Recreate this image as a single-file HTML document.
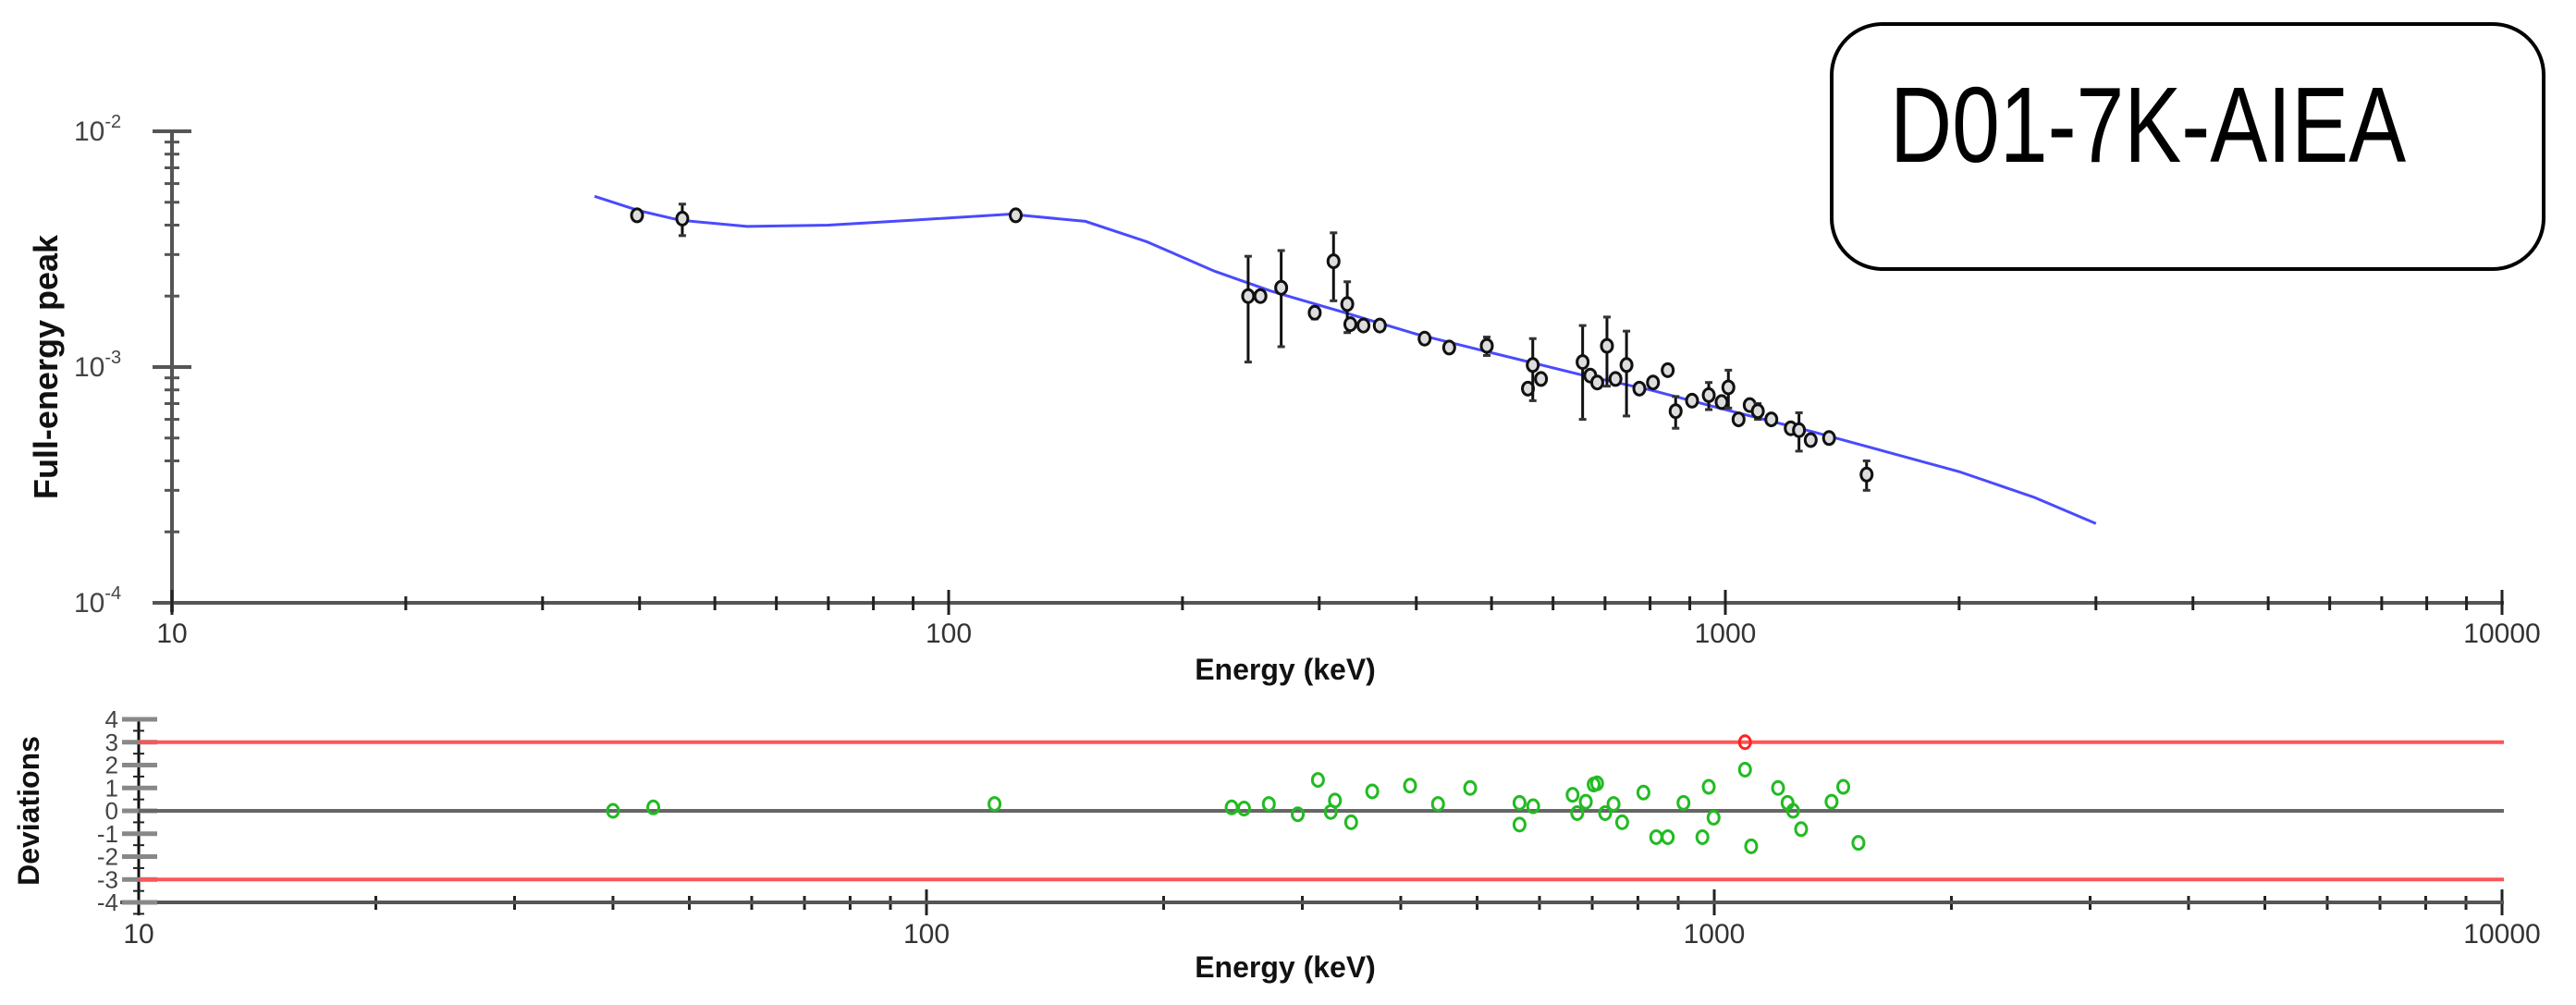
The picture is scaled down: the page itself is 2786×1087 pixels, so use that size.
<!DOCTYPE html>
<html><head><meta charset="utf-8"><style>
html,body{margin:0;padding:0;background:#fff;}
svg{display:block;font-family:"Liberation Sans",sans-serif;}
</style></head><body>
<svg id="chart" width="2786" height="1087" viewBox="0 0 2786 1087" xmlns="http://www.w3.org/2000/svg">
<rect x="1981" y="26" width="770" height="265" rx="55" ry="55" fill="#fff" stroke="#000" stroke-width="4"/>
<text transform="translate(2044,175) scale(1,1.25)" font-size="93" fill="#000">D01-7K-AIEA</text>
<g id="topPlot"></g>
<g id="botPlot"></g>
</svg>
<script>
// ---- data ----
const effEnergies=[39.7,45.4,122,243,252,268,296,313,326,329,342,359,410,441,493,557,565,579,655,670,684,704,722,746,775,807,843,863,906,952,989,1009,1040,1075,1101,1146,1214,1244,1288,1360,1520];
const effValues=[4.4e-3,4.26e-3,4.4e-3,2.0e-3,2.0e-3,2.17e-3,1.7e-3,2.81e-3,1.85e-3,1.52e-3,1.5e-3,1.5e-3,1.32e-3,1.21e-3,1.23e-3,0.81e-3,1.02e-3,0.89e-3,1.05e-3,0.92e-3,0.86e-3,1.23e-3,0.89e-3,1.02e-3,0.81e-3,0.86e-3,0.97e-3,0.65e-3,0.72e-3,0.76e-3,0.71e-3,0.82e-3,0.60e-3,0.69e-3,0.65e-3,0.60e-3,0.55e-3,0.54e-3,0.49e-3,0.50e-3,0.35e-3];
const effErrors=[0,0.65e-3,0,0.95e-3,0,0.95e-3,0.1e-3,0.9e-3,0.45e-3,0,0,0,0,0,0.11e-3,0,0.3e-3,0,0.45e-3,0,0,0.4e-3,0,0.4e-3,0,0,0,0.1e-3,0,0.1e-3,0,0.15e-3,0,0,0.05e-3,0,0,0.1e-3,0,0,0.05e-3];
const fitEnergies=[35,40,45,55,70,90,120,150,180,220,260,320,400,500,650,800,1000,1300,1600,2000,2500,3000];
const fitValues=[5.3e-3,4.6e-3,4.2e-3,3.95e-3,4.0e-3,4.2e-3,4.45e-3,4.15e-3,3.4e-3,2.55e-3,2.1e-3,1.72e-3,1.38e-3,1.15e-3,0.93e-3,0.8e-3,0.66e-3,0.53e-3,0.44e-3,0.36e-3,0.28e-3,0.217e-3];
const devEnergies=[40,45,122,244,253,272,296,314,330,326,346,368,411,446,490,566,566,589,661,670,687,703,710,727,745,764,813,844,873,914,966,984,998,1094,1094,1114,1205,1239,1259,1289,1409,1458,1524];
const devValues=[0,0.15,0.3,0.15,0.1,0.3,-0.15,1.35,0.45,-0.05,-0.5,0.85,1.1,0.3,1.0,0.35,-0.6,0.2,0.7,-0.1,0.4,1.15,1.2,-0.1,0.3,-0.5,0.8,-1.15,-1.15,0.35,-1.15,1.05,-0.3,3.0,1.8,-1.55,1.0,0.35,0,-0.8,0.4,1.05,-1.4];
const xTicks=[10,100,1000,10000];
const xTickLabels=["10","100","1000","10000"];
const yTickExps=[-2,-3,-4];
const devTicks=[4,3,2,1,0,-1,-2,-3,-4];
// ---- axes ----
const NS="http://www.w3.org/2000/svg";
const X1=E=>186+840*Math.log10(E/10);
const Y1=v=>652-255*(Math.log10(v)+4);
const X2=E=>150+852*Math.log10(E/10);
const Y2=d=>877-24.75*d;
function mk(p,tag,a){const e=document.createElementNS(NS,tag);for(const k in a)e.setAttribute(k,a[k]);p.appendChild(e);return e;}
const gTop=document.getElementById('topPlot'),gBot=document.getElementById('botPlot');
const G="#555";
let e;
e=mk(gTop,'line',{x1:186,y1:142,x2:186,y2:662,stroke:G,'stroke-width':4});


e=mk(gTop,'line',{x1:165,y1:652,x2:2708,y2:652,stroke:G,'stroke-width':4});


for(let d=-4;d<-2;d++)for(let m=2;m<=9;m++){const y=Y1(m*Math.pow(10,d));mk(gTop,'line',{x1:178,y1:y,x2:194,y2:y,stroke:G,'stroke-width':3});}
yTickExps.forEach(p=>{const y=Y1(Math.pow(10,p));mk(gTop,'line',{x1:165,y1:y,x2:207,y2:y,stroke:G,'stroke-width':4});
 e=mk(gTop,'text',{x:80,y:y+10,'font-size':30,fill:'#444'});e.textContent='10';
 
 
 const s=mk(e,'tspan',{dy:-14,'font-size':20});s.textContent=String(p);});
for(let d=1;d<4;d++)for(let m=2;m<=9;m++){const x=X1(m*Math.pow(10,d));mk(gTop,'line',{x1:x,y1:645,x2:x,y2:660,stroke:'#222','stroke-width':3});
 const x2=X2(m*Math.pow(10,d));mk(gBot,'line',{x1:x2,y1:969,x2:x2,y2:984,stroke:'#222','stroke-width':3});}
xTicks.forEach((t,i)=>{const x=X1(t);mk(gTop,'line',{x1:x,y1:638,x2:x,y2:665,stroke:'#222','stroke-width':3});
 e=mk(gTop,'text',{x:x,y:695,'font-size':30,fill:'#333','text-anchor':'middle'});e.textContent=xTickLabels[i];
 
 
 const x2=X2(t);mk(gBot,'line',{x1:x2,y1:962,x2:x2,y2:990,stroke:'#222','stroke-width':3});
 e=mk(gBot,'text',{x:x2,y:1020,'font-size':30,fill:'#333','text-anchor':'middle'});e.textContent=xTickLabels[i];
 
 });
e=mk(gTop,'text',{x:1390,y:735,'font-size':32,'font-weight':'bold','text-anchor':'middle',fill:'#111'});e.textContent='Energy (keV)';


e=mk(gTop,'text',{x:0,y:0,'font-size':36,'font-weight':'bold','text-anchor':'middle',fill:'#111',transform:'translate(62,397) rotate(-90)'});e.textContent='Full-energy peak';


e=mk(gTop,'polyline',{points:fitEnergies.map((E,i)=>X1(E)+','+Y1(fitValues[i])).join(' '),fill:'none',stroke:'#4a4aff','stroke-width':3});


effEnergies.forEach((E,i)=>{const x=X1(E),y=Y1(effValues[i]),er=effErrors[i];
 if(er>0){const y1=Y1(effValues[i]+er),y2=Y1(Math.max(effValues[i]-er,1e-5));
  mk(gTop,'line',{x1:x,y1:y1,x2:x,y2:y2,stroke:'#111','stroke-width':3});
  mk(gTop,'line',{x1:x-4,y1:y1,x2:x+4,y2:y1,stroke:'#333','stroke-width':3});
  mk(gTop,'line',{x1:x-4,y1:y2,x2:x+4,y2:y2,stroke:'#333','stroke-width':3});}
 e=mk(gTop,'ellipse',{cx:x,cy:y,rx:6,ry:7,fill:'#ddd',stroke:'#111','stroke-width':3});
 
 });
e=mk(gBot,'line',{x1:150,y1:776,x2:150,y2:990,stroke:'#111','stroke-width':3});


e=mk(gBot,'line',{x1:130,y1:976,x2:2708,y2:976,stroke:G,'stroke-width':4});


devTicks.forEach(d=>{const y=Y2(d);mk(gBot,'line',{x1:132,y1:y,x2:170,y2:y,stroke:'#888','stroke-width':5});
 mk(gBot,'line',{x1:144,y1:y+12.4,x2:156,y2:y+12.4,stroke:'#222','stroke-width':2});
 e=mk(gBot,'text',{x:128,y:y+9,'font-size':26,fill:'#444','text-anchor':'end'});e.textContent=String(d);
 
 });
e=mk(gBot,'line',{x1:150,y1:Y2(0),x2:2708,y2:Y2(0),stroke:'#666','stroke-width':4});


[3,-3].forEach(d=>{e=mk(gBot,'line',{x1:150,y1:Y2(d),x2:2708,y2:Y2(d),stroke:'#ff5555','stroke-width':4});
 
 });
e=mk(gBot,'text',{x:1390,y:1057,'font-size':32,'font-weight':'bold','text-anchor':'middle',fill:'#111'});e.textContent='Energy (keV)';


e=mk(gBot,'text',{x:0,y:0,'font-size':32,'font-weight':'bold','text-anchor':'middle',fill:'#111',transform:'translate(42,877) rotate(-90)'});e.textContent='Deviations';


devEnergies.forEach((E,i)=>{const v=devValues[i];
 e=mk(gBot,'ellipse',{cx:X2(E),cy:Y2(v),rx:6,ry:7,fill:'none',stroke:Math.abs(v)>=3?'#ff2222':'#22bb22','stroke-width':3});
 
 });
</script>
</body></html>
